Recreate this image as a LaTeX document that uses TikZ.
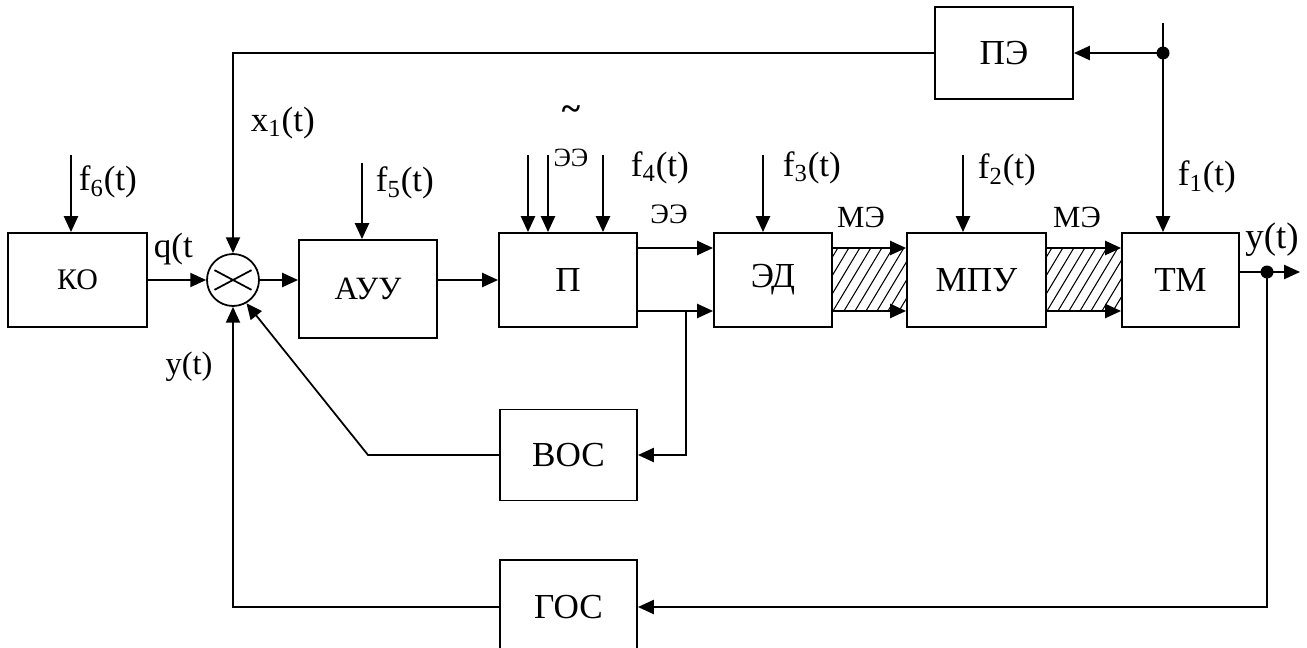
\documentclass[tikz,border=0pt]{standalone}
\usepackage{fontspec}
\setmainfont{Liberation Serif}
\usetikzlibrary{arrows.meta}

\begin{document}
\begin{tikzpicture}[line width=1pt, >={Triangle[length=9pt,width=8pt]},
        block/.style={draw, line width=1.1pt, inner sep=0pt, font=\rmfamily\fontsize{20}{24}\selectfont},
        lbl/.style={inner sep=0pt, font=\rmfamily\fontsize{20}{24}\selectfont},
        sig/.style={inner sep=0pt, font=\rmfamily\fontsize{16}{19}\selectfont}]
        \useasboundingbox (0,0) rectangle (26.14,-12.96);

        % Draw blocks
        \node[block, minimum width=2.78cm, minimum height=1.88cm, font=\rmfamily\fontsize{17}{20}\selectfont] (ko) at (1.55,-5.6) {КО};
        \node[draw, circle, minimum size=1.04cm, inner sep=0pt] (sum) at (4.66,-5.6) {};
        \node[block, minimum width=2.76cm, minimum height=1.96cm, font=\rmfamily\fontsize{18.5}{22}\selectfont] (ayu) at (7.36,-5.78) {АУУ};
        \node[block, minimum width=2.76cm, minimum height=1.88cm] (p) at (11.36,-5.6) {П};
        \node[block, minimum width=2.36cm, minimum height=1.88cm] (ed) at (15.46,-5.6) {ЭД};
        \node[block, minimum width=2.78cm, minimum height=1.88cm] (mpu) at (19.53,-5.6) {МПУ};
        \node[block, minimum width=2.34cm, minimum height=1.88cm] (tm) at (23.61,-5.6) {ТМ};
        \node[block, minimum width=2.76cm, minimum height=1.84cm] (pe) at (20.08,-1.06) {ПЭ};
        \node[block, minimum width=2.74cm, minimum height=1.82cm] (voc) at (11.37,-9.1) {ВОС};
        \node[block, minimum width=2.74cm, minimum height=1.88cm] (goc) at (11.37,-12.14) {ГОС};

        % Draw cross in the summing point
        \draw (sum.center) +(152:0.42) -- +(-28:0.42);
        \draw (sum.center) +(28:0.42) -- +(208:0.42);

        % Draw main chain
        \draw[->] (ko.east) -- (sum.west);
        \draw[->] (sum.east) -- (sum.east -| ayu.west);
        \draw[->] (ayu.east |- p.west) -- (p.west);
        \draw[->] ([yshift=0.64cm]p.east) -- ([yshift=0.64cm]ed.west);
        \draw[->] ([yshift=-0.62cm]p.east) -- ([yshift=-0.62cm]ed.west);

        % Draw mechanical links with hatching
        \foreach \a/\b in {ed/mpu, mpu/tm} {
            \begin{scope}
                \clip ([yshift=0.64cm]\a.east) rectangle ([yshift=-0.62cm]\b.west);
                \foreach \i in {-4,...,8}
                    \draw[line width=0.6pt] ([xshift=\i*0.22cm, yshift=-0.62cm]\a.east) -- ++(59:1.6);
            \end{scope}
            \draw[->] ([yshift=0.64cm]\a.east) -- ([yshift=0.64cm]\b.west);
            \draw[->] ([yshift=-0.62cm]\a.east) -- ([yshift=-0.62cm]\b.west);
        }

        % Draw disturbances
        \coordinate (f6in) at (1.42,-3.1);
        \coordinate (f5in) at (7.24,-3.26);
        \coordinate (pin1) at (10.56,-3.1);
        \coordinate (pin2) at (10.96,-3.1);
        \coordinate (f4in) at (12.06,-3.1);
        \coordinate (f3in) at (15.26,-3.1);
        \coordinate (f2in) at (19.26,-3.1);
        \coordinate (f1in) at (23.26,-0.46);
        \foreach \c/\b in {f6in/ko, f5in/ayu, pin1/p, pin2/p, f4in/p, f3in/ed, f2in/mpu, f1in/tm}
            \draw[->] (\c) -- (\c |- \b.north);

        % Draw feedback from the load
        \coordinate (pedot) at (23.26,-1.06);
        \draw[->] (pedot) -- (pe.east);
        \fill (pedot) circle (0.13);
        \draw[->] (pe.west) -| (sum.north);

        % Draw output and main feedback
        \coordinate (tmout) at ([yshift=0.16cm]tm.east);
        \coordinate (ydot) at (25.34,-5.44);
        \coordinate (yend) at (26.0,-5.44);
        \draw[->] (tmout) -- (yend);
        \fill (ydot) circle (0.13);
        \draw[->] (ydot) |- (goc.east);
        \draw[->] (goc.west) -| (sum.south);

        % Draw speed feedback
        \coordinate (pbr) at (13.72,-6.22);
        \coordinate (bend) at (7.36,-9.1);
        \draw[->] (pbr) |- (voc.east);
        \draw[->] (voc.west) -- (bend) -- (sum.-60);

        % Add labels
        \node[lbl, anchor=west] (f6lbl) at (1.56,-3.64) {f\textsubscript{6}(t)};
        \node[lbl, anchor=west] (qlbl) at (3.06,-4.98) {q(t};
        \node[lbl, anchor=west] (x1lbl) at (5.0,-2.46) {x\textsubscript{1}(t)};
        \node[lbl, anchor=west] (f5lbl) at (7.5,-3.66) {f\textsubscript{5}(t)};
        \node[lbl, font=\rmfamily\bfseries\fontsize{20}{24}\selectfont] (tilde) at (11.42,-2.26) {\char`\~};
        \node[sig, font=\rmfamily\fontsize{15}{18}\selectfont] (eelbl) at (11.42,-3.16) {ЭЭ};
        \node[lbl, anchor=west] (f4lbl) at (12.6,-3.35) {f\textsubscript{4}(t)};
        \node[sig] (eeout) at (13.38,-4.28) {ЭЭ};
        \node[lbl, anchor=west] (f3lbl) at (15.64,-3.35) {f\textsubscript{3}(t)};
        \node[sig, font=\rmfamily\fontsize{17.5}{21}\selectfont] (me1) at (17.22,-4.34) {МЭ};
        \node[lbl, anchor=west] (f2lbl) at (19.54,-3.4) {f\textsubscript{2}(t)};
        \node[sig, font=\rmfamily\fontsize{17.5}{21}\selectfont] (me2) at (21.54,-4.34) {МЭ};
        \node[lbl, anchor=west] (f1lbl) at (23.54,-3.54) {f\textsubscript{1}(t)};
        \node[lbl, font=\rmfamily\fontsize{21}{25}\selectfont] (yout) at (25.44,-4.8) {y(t)};
        \node[lbl, font=\rmfamily\fontsize{18.5}{22}\selectfont] (yfb) at (3.78,-7.34) {y(t)};
\end{tikzpicture}
\end{document}
